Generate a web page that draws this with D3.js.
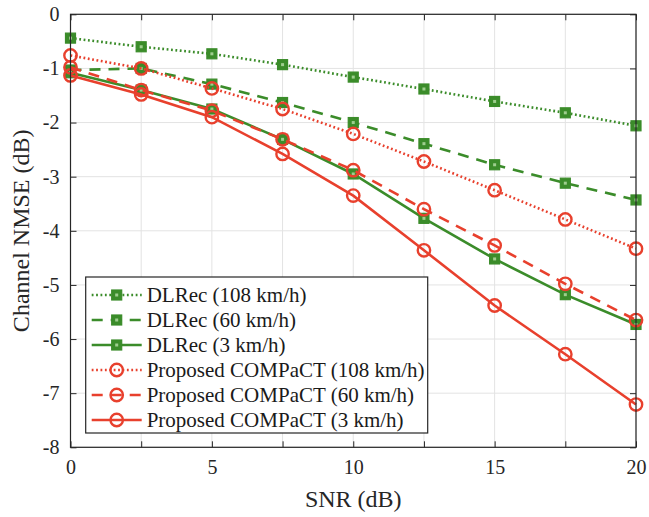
<!DOCTYPE html>
<html><head><meta charset="utf-8">
<script src="https://cdn.jsdelivr.net/npm/d3@7"></script>
<style>body{margin:0;background:#fff}svg{display:block}</style>
</head><body>
<svg id="c" width="649" height="517"></svg>
<script>
const snr = [0, 2.5, 5, 7.5, 10, 12.5, 15, 17.5, 20];
const dlrec108 = [-0.44, -0.60, -0.73, -0.93, -1.16, -1.38, -1.61, -1.82, -2.06];
const dlrec60  = [-1.03, -1.00, -1.29, -1.63, -2.00, -2.39, -2.78, -3.12, -3.43];
const dlrec3   = [-1.08, -1.40, -1.75, -2.31, -2.95, -3.77, -4.52, -5.18, -5.73];
const comp108  = [-0.76, -1.00, -1.37, -1.75, -2.21, -2.72, -3.25, -3.79, -4.33];
const comp60   = [-0.98, -1.40, -1.78, -2.31, -2.88, -3.60, -4.27, -4.98, -5.65];
const comp3    = [-1.13, -1.48, -1.90, -2.58, -3.35, -4.36, -5.38, -6.28, -7.21];
const xTicks = [0, 5, 10, 15, 20];
const xGrid = [0, 2.5, 5, 7.5, 10, 12.5, 15, 17.5, 20];
const yTicks = [0, -1, -2, -3, -4, -5, -6, -7, -8];
const seriesNames = ["DLRec (108 km/h)", "DLRec (60 km/h)", "DLRec (3 km/h)",
  "Proposed COMPaCT (108 km/h)", "Proposed COMPaCT (60 km/h)", "Proposed COMPaCT (3 km/h)"];

const GREEN = "#3b8c2a", RED = "#e8402d";
const series = [
  {name: seriesNames[0], vals: dlrec108, color: GREEN, dash: "1.8,2.6", marker: "square"},
  {name: seriesNames[1], vals: dlrec60,  color: GREEN, dash: "11,8",    marker: "square"},
  {name: seriesNames[2], vals: dlrec3,   color: GREEN, dash: null,      marker: "square"},
  {name: seriesNames[3], vals: comp108,  color: RED,   dash: "1.8,2.6", marker: "circle"},
  {name: seriesNames[4], vals: comp60,   color: RED,   dash: "11,8",    marker: "circle"},
  {name: seriesNames[5], vals: comp3,    color: RED,   dash: null,      marker: "circle"}
];

const svg = d3.select("#c");
const L = 70.5, R = 636, T = 14.3, B = 447.3;
const x = d3.scaleLinear().domain([0, 20]).range([L, R]);
const y = d3.scaleLinear().domain([-8, 0]).range([B, T]);
const AX = "#262626";
const FONT = "'Liberation Serif','Times New Roman',serif";

// grid
const g = svg.append("g");
g.selectAll("line.gx").data(xGrid).enter().append("line")
  .attr("x1", d => x(d)).attr("x2", d => x(d)).attr("y1", T).attr("y2", B)
  .attr("stroke", "#e3e3e3").attr("stroke-width", 1);
g.selectAll("line.gy").data(yTicks).enter().append("line")
  .attr("y1", d => y(d)).attr("y2", d => y(d)).attr("x1", L).attr("x2", R)
  .attr("stroke", "#e3e3e3").attr("stroke-width", 1);

// axes with inward ticks
const tick = 6;
const fmt = d => String(d);
const axB = d3.axisBottom(x).tickValues(xGrid).tickSize(-tick).tickPadding(13)
  .tickFormat(d => xTicks.includes(d) ? fmt(d) : "");
const axT = d3.axisTop(x).tickValues(xGrid).tickSize(-tick).tickFormat("");
const axL = d3.axisLeft(y).tickValues(yTicks).tickSize(-tick).tickPadding(11).tickFormat(fmt);
const axR = d3.axisRight(y).tickValues(yTicks).tickSize(-tick).tickFormat("");
function styleAx(sel){
  sel.select(".domain").remove();
  sel.selectAll("line").attr("stroke", AX);
  sel.selectAll("text").attr("fill", AX).style("font-family", FONT).style("font-size", "20px");
}
svg.append("g").attr("transform", `translate(0,${B})`).call(axB).call(styleAx);
svg.append("g").attr("transform", `translate(0,${T})`).call(axT).call(styleAx);
svg.append("g").attr("transform", `translate(${L},0)`).call(axL).call(styleAx);
svg.append("g").attr("transform", `translate(${R},0)`).call(axR).call(styleAx);

const line = d3.line().x((d, i) => x(snr[i])).y(d => y(d));
const plot = svg.append("g");
function drawMarker(sel, s, cx, cy){
  if (s.marker === "square") {
    sel.append("rect").attr("x", cx - 5).attr("y", cy - 5).attr("width", 10).attr("height", 10)
      .attr("fill", s.color).attr("stroke", s.color).attr("stroke-width", 1.2);
    sel.append("rect").attr("x", cx - 1.5).attr("y", cy - 1.5).attr("width", 3).attr("height", 3)
      .attr("fill", "#9fce8f").attr("stroke", "none");
  } else {
    sel.append("circle").attr("cx", cx).attr("cy", cy).attr("r", 6.2)
      .attr("fill", "none").attr("stroke", s.color).attr("stroke-width", 2.4);
  }
}
series.forEach(s => {
  plot.append("path").datum(s.vals).attr("d", line)
    .attr("fill", "none").attr("stroke", s.color).attr("stroke-width", 2.6)
    .attr("stroke-dasharray", s.dash);
  s.vals.forEach((v, i) => drawMarker(plot.append("g"), s, x(snr[i]), y(v)));
});

// box
svg.append("rect").attr("x", L).attr("y", T).attr("width", R - L).attr("height", B - T)
  .attr("fill", "none").attr("stroke", AX).attr("stroke-width", 1.2);

// legend
const lg = svg.append("g");
const lx = 85.7, ly = 277, lw = 342, lh = 156;
lg.append("rect").attr("x", lx).attr("y", ly).attr("width", lw).attr("height", lh)
  .attr("fill", "#fff").attr("stroke", AX).attr("stroke-width", 1.2);
series.forEach((s, i) => {
  const cy = ly + 18 + i * 25;
  lg.append("line").attr("x1", lx + 6).attr("x2", lx + 56).attr("y1", cy).attr("y2", cy)
    .attr("stroke", s.color).attr("stroke-width", 2.6).attr("stroke-dasharray", s.dash);
  drawMarker(lg.append("g"), s, lx + 31, cy);
  lg.append("text").attr("x", lx + 61).attr("y", cy + 7).text(s.name)
    .attr("fill", "#1a1a1a").style("font-family", FONT).style("font-size", "21px");
});

// titles
svg.append("text").attr("x", (L + R) / 2).attr("y", 507).attr("text-anchor", "middle")
  .text("SNR (dB)").attr("fill", AX).style("font-family", FONT).style("font-size", "24px");
svg.append("text").attr("transform", `translate(29,${(T + B) / 2}) rotate(-90)`)
  .attr("text-anchor", "middle").text("Channel NMSE (dB)")
  .attr("fill", AX).style("font-family", FONT).style("font-size", "24px");
</script>
</body></html>
